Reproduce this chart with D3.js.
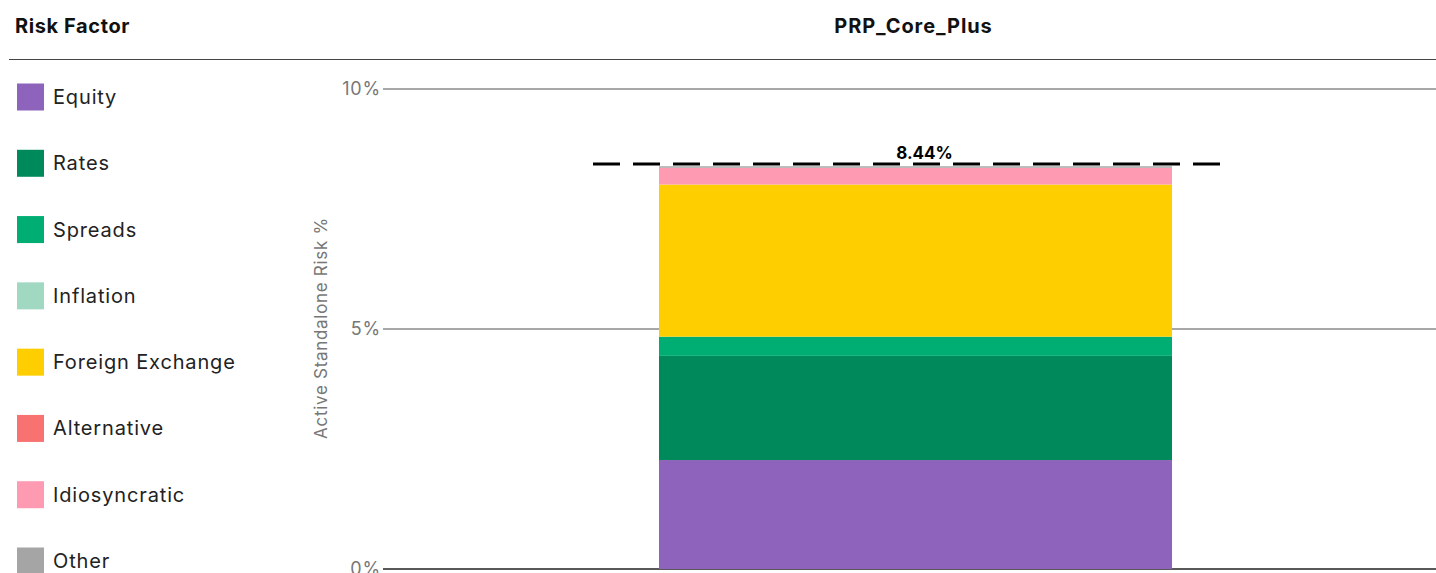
<!DOCTYPE html>
<html>
<head>
<meta charset="utf-8">
<script src="https://cdn.jsdelivr.net/npm/d3@7"></script>
<style>
  body { margin: 0; background: #fff; }
  svg { display: block; font-family: Inter, "Noto Sans", sans-serif; }
</style>
</head>
<body>
<div id="chart"></div>
<script>
// data
const portfolios = ["PRP_Core_Plus"];
const riskFactors = ["Equity", "Rates", "Spreads", "Inflation", "Foreign Exchange", "Alternative", "Idiosyncratic", "Other"];
const factorColors = ["#8e63bb", "#008a5c", "#00ae73", "#a0d8c1", "#ffce00", "#f87272", "#fe9bb3", "#a5a5a5"];
const riskValues = [2.27, 2.17, 0.40, 0, 3.17, 0, 0.35, 0.03];
const totalRisk = [8.44];
const yTicks = [0, 5, 10];

const width = 1436, height = 573;

const svg = d3.select("#chart")
    .append("svg")
    .attr("width", width)
    .attr("height", height);

// header
svg.append("text")
    .attr("x", 15).attr("y", 33)
    .style("font-size", "20px").style("font-weight", 700).style("fill", "#111")
    .style("letter-spacing", "0.6px")
    .text("Risk Factor");

svg.append("line")
    .attr("x1", 9).attr("x2", width)
    .attr("y1", 59.5).attr("y2", 59.5)
    .style("stroke", "#444").style("stroke-width", 1);

// legend
let legendY = d3.scalePoint()
    .domain(riskFactors)
    .range([97, 561]);

let legend = svg.append("g").selectAll("g")
    .data(riskFactors)
    .enter()
    .append("g")
    .attr("transform", d => `translate(17, ${legendY(d)})`);

legend.append("rect")
    .attr("x", 0).attr("y", -13.5)
    .attr("width", 27).attr("height", 27)
    .style("fill", (d, i) => factorColors[i]);

legend.append("text")
    .attr("x", 36).attr("y", 0)
    .attr("dy", "0.35em")
    .style("font-size", "20px").style("fill", "#222")
    .style("letter-spacing", "0.85px")
    .text(d => d);

// scales
let y = d3.scaleLinear()
    .domain([0, 10])
    .range([569, 89]);

let x = d3.scaleBand()
    .domain(portfolios)
    .range([383, 1448])
    .paddingInner(0)
    .paddingOuter(0.538);

// title above the bar
svg.append("text")
    .attr("x", x(portfolios[0]) + x.bandwidth() / 2 - 2)
    .attr("y", 33)
    .style("text-anchor", "middle")
    .style("font-size", "20px").style("font-weight", 700).style("fill", "#111")
    .style("letter-spacing", "0.9px")
    .text(portfolios[0]);

// gridlines + tick labels
let yAxis = svg.append("g")
    .attr("transform", "translate(383, 0)")
    .call(d3.axisLeft(y).tickValues(yTicks).tickSize(0).tickPadding(2).tickFormat(d => d + "%"));
yAxis.select(".domain").remove();
yAxis.selectAll("text")
    .style("font-size", "18px").style("fill", "#777")
    .style("letter-spacing", "0.8px")
    .style("font-family", "Inter, 'Noto Sans', sans-serif");

svg.append("g").selectAll("line")
    .data(yTicks)
    .enter()
    .append("line")
    .attr("x1", 383).attr("x2", width)
    .attr("y1", d => y(d)).attr("y2", d => y(d))
    .style("stroke", d => d === 0 ? "#222" : "#8a8a8a")
    .style("stroke-width", 1.5);

// y axis label
svg.append("text")
    .attr("transform", "translate(327, 328) rotate(-90)")
    .style("text-anchor", "middle")
    .style("font-size", "17px").style("fill", "#777")
    .style("letter-spacing", "0.7px")
    .text("Active Standalone Risk %");

// stacked bar
let row = {};
riskFactors.forEach((f, i) => row[f] = riskValues[i]);
let stacked = d3.stack().keys(riskFactors)([row]);

svg.append("g").selectAll("rect")
    .data(stacked)
    .enter()
    .append("rect")
    .attr("x", x(portfolios[0]))
    .attr("width", x.bandwidth())
    .attr("y", d => y(d[0][1]))
    .attr("height", d => y(d[0][0]) - y(d[0][1]))
    .style("fill", (d, i) => factorColors[i]);

// total dashed line
let xStart = x(portfolios[0]);
svg.append("line")
    .attr("x1", xStart - 66)
    .attr("x2", xStart + x.bandwidth() + 48)
    .attr("y1", y(totalRisk[0])).attr("y2", y(totalRisk[0]))
    .style("stroke", "#000").style("stroke-width", 3)
    .style("stroke-dasharray", "27,13");

svg.append("text")
    .attr("x", xStart + x.bandwidth() / 2 + 9)
    .attr("y", y(totalRisk[0]) - 5)
    .style("text-anchor", "middle")
    .style("font-size", "17px").style("font-weight", 700).style("fill", "#000")
    .text(totalRisk[0].toFixed(2) + "%");
</script>
</body>
</html>
